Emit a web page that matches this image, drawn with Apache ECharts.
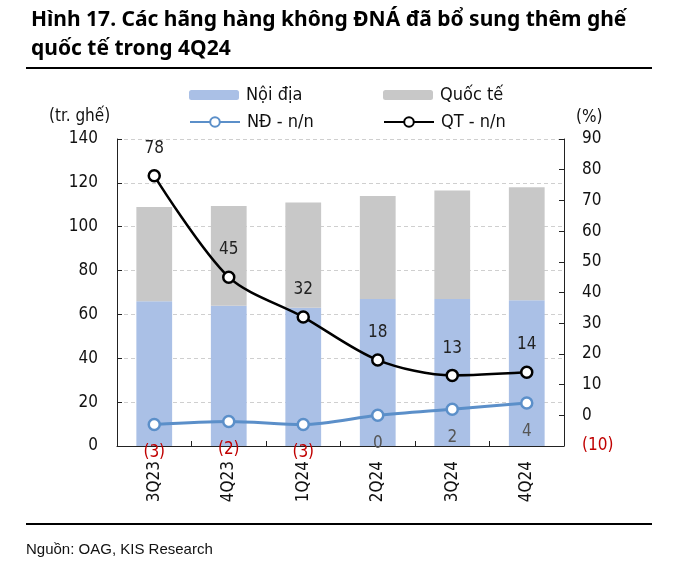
<!DOCTYPE html>
<html>
<head>
<meta charset="utf-8">
<script src="https://cdn.jsdelivr.net/npm/echarts@6/dist/echarts.min.js"></script>
<style>
html,body{margin:0;padding:0;background:#fff;}
#chart{width:682px;height:575px;}
</style>
</head>
<body>
<div id="chart"></div>
<script>
// ---- data ----
var categories = ['3Q23', '4Q23', '1Q24', '2Q24', '3Q24', '4Q24'];
var domesticSeats = [66, 64, 63, 67, 67, 66.5];        // Nội địa (tr. ghế)
var internationalSeats = [43, 45.5, 48, 47, 49.5, 51.5]; // Quốc tế (tr. ghế)
var domesticYoY = [-3, -2, -3, 0, 2, 4];               // NĐ - n/n (%)
var internationalYoY = [78, 45, 32, 18, 13, 14];       // QT - n/n (%)
var leftTicks = {min: 0, max: 140, interval: 20};
var rightTicks = {min: -10, max: 90, interval: 10};

var FONT = "'DejaVu Sans Condensed', 'DejaVu Sans', sans-serif";
var chart = echarts.init(document.getElementById('chart'), null, {renderer: 'canvas'});

function legendItem(name, left, top, extra) {
  return Object.assign({
    data: [name], left: left, top: top, padding: 0,
    itemWidth: 50, itemHeight: 10, itemGap: 0,
    textStyle: {fontFamily: FONT, fontSize: 18, color: '#111', padding: [0, 0, 0, 2]}
  }, extra || {});
}

var option = {
  animation: false,
  backgroundColor: '#fff',
  textStyle: {fontFamily: FONT},
  grid: {left: 117, right: 118, top: 139, bottom: 129, containLabel: false},
  legend: [
    legendItem('Nội địa', 189, 86),
    legendItem('Quốc tế', 383, 86),
    legendItem('NĐ - n/n', 189, 113, {itemHeight: 12}),
    legendItem('QT - n/n', 383, 113, {itemHeight: 12})
  ],
  xAxis: {
    type: 'category',
    data: categories,
    axisLine: {lineStyle: {color: '#222', width: 1}},
    axisTick: {show: true, inside: true, length: 5, lineStyle: {color: '#222'}},
    axisLabel: {rotate: 90, margin: 15, fontSize: 17, color: '#111', fontFamily: FONT}
  },
  yAxis: [
    {
      type: 'value', min: leftTicks.min, max: leftTicks.max, interval: leftTicks.interval,
      axisLine: {show: true, lineStyle: {color: '#222', width: 1}},
      axisTick: {show: true, inside: true, length: 5, lineStyle: {color: '#222'}},
      axisLabel: {margin: 19, fontSize: 17, color: '#111', fontFamily: FONT},
      splitLine: {show: true, lineStyle: {color: '#cfcfcf', type: [4, 3], width: 1}}
    },
    {
      type: 'value', min: rightTicks.min, max: rightTicks.max, interval: rightTicks.interval,
      position: 'right',
      axisLine: {show: true, lineStyle: {color: '#222', width: 1}},
      axisTick: {show: true, inside: true, length: 5, lineStyle: {color: '#222'}},
      axisLabel: {
        margin: 18, fontSize: 17, fontFamily: FONT,
        formatter: function (v) { return v < 0 ? '(' + (-v) + ')' : String(v); },
        color: function (v) { return Number(v) < 0 ? '#C00000' : '#111'; }
      },
      splitLine: {show: false}
    }
  ],
  series: [
    {
      name: 'Nội địa', type: 'bar', stack: 'seats', data: domesticSeats,
      barWidth: '48%', itemStyle: {color: '#AAC0E6'}, z: 1
    },
    {
      name: 'Quốc tế', type: 'bar', stack: 'seats', data: internationalSeats,
      barWidth: '48%', itemStyle: {color: '#C8C8C8'}, z: 1
    },
    {
      name: 'NĐ - n/n', type: 'line', yAxisIndex: 1, data: domesticYoY,
      smooth: 0.3, symbol: 'circle', symbolSize: 11,
      lineStyle: {color: '#5B8FC9', width: 3},
      itemStyle: {color: '#fff', borderColor: '#5B8FC9', borderWidth: 2.5},
      label: {
        show: true, position: 'bottom', distance: 13, fontSize: 17, fontFamily: FONT,
        formatter: function (p) {
          return p.value < 0 ? '{neg|(' + (-p.value) + ')}' : '{pos|' + p.value + '}';
        },
        rich: {
          neg: {color: '#C00000', fontSize: 17, fontFamily: FONT},
          pos: {color: '#555', fontSize: 17, fontFamily: FONT}
        }
      },
      z: 3
    },
    {
      name: 'QT - n/n', type: 'line', yAxisIndex: 1, data: internationalYoY,
      smooth: 0.3, symbol: 'circle', symbolSize: 11,
      lineStyle: {color: '#000', width: 2.5},
      itemStyle: {color: '#fff', borderColor: '#000', borderWidth: 2.5},
      label: {show: true, position: 'top', distance: 12, fontSize: 17, fontFamily: FONT, color: '#222'},
      z: 4
    }
  ],
  graphic: [
    {type: 'text', left: 31, top: 10, style: {text: 'Hình 17. Các hãng hàng không ĐNÁ đã bổ sung thêm ghế', font: "bold 21px 'Noto Sans', sans-serif", fill: '#000'}},
    {type: 'text', left: 31, top: 39, style: {text: 'quốc tế trong 4Q24', font: "bold 21px 'Noto Sans', sans-serif", fill: '#000'}},
    {type: 'rect', shape: {x: 26, y: 67, width: 626, height: 2}, style: {fill: '#000'}},
    {type: 'text', left: 49, top: 108, style: {text: '(tr. ghế)', font: "17px 'DejaVu Sans Condensed', 'DejaVu Sans', sans-serif", fill: '#111'}},
    {type: 'text', left: 576, top: 109, style: {text: '(%)', font: "17px 'DejaVu Sans Condensed', 'DejaVu Sans', sans-serif", fill: '#111'}},
    {type: 'rect', shape: {x: 26, y: 523, width: 626, height: 2}, style: {fill: '#000'}},
    {type: 'text', left: 26, top: 542, style: {text: 'Nguồn: OAG, KIS Research', font: "15px 'Liberation Sans', Arial, sans-serif", fill: '#111'}}
  ]
};
chart.setOption(option);
</script>
</body>
</html>
